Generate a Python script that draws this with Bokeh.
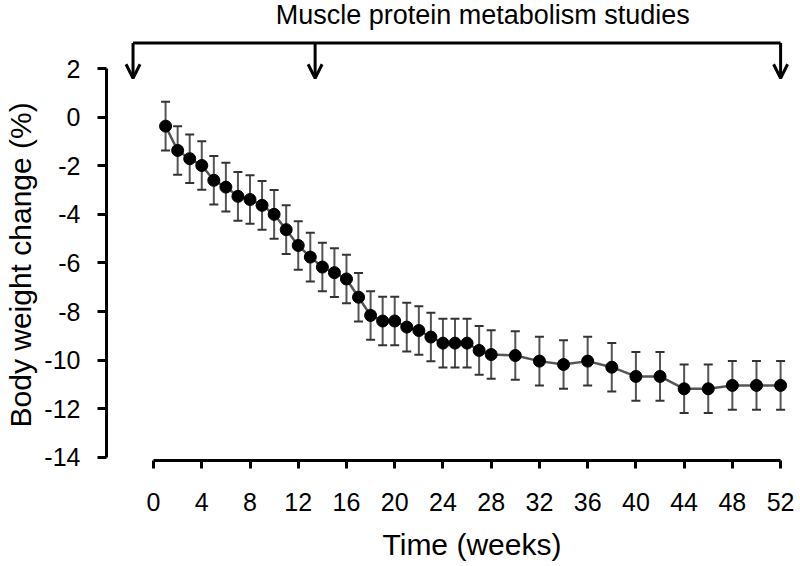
from bokeh.plotting import figure
from bokeh.models import (Range1d, Whisker, TeeHead, Arrow, OpenHead, Label, Title,
                          ColumnDataSource, FixedTicker, LinearAxis)
from bokeh.embed import file_html
from bokeh.resources import INLINE

# ---- data -------------------------------------------------------------
weeks = [1, 2, 3, 4, 5, 6, 7, 8, 9, 10, 11, 12, 13, 14, 15, 16, 17, 18, 19, 20,
         21, 22, 23, 24, 25, 26, 27, 28, 30, 32, 34, 36, 38, 40, 42, 44, 46, 48, 50, 52]
change = [-0.37, -1.37, -1.71, -1.99, -2.60, -2.88, -3.26, -3.39, -3.63, -4.00,
          -4.63, -5.28, -5.76, -6.17, -6.40, -6.66, -7.41, -8.16, -8.39, -8.39,
          -8.64, -8.78, -9.05, -9.30, -9.30, -9.30, -9.60, -9.77, -9.81, -10.04,
          -10.18, -10.04, -10.29, -10.67, -10.67, -11.18, -11.18, -11.04, -11.04, -11.04]
sem = [1.0, 1.0, 1.0, 1.0, 1.0, 1.0, 1.0, 1.0, 1.0, 1.0,
       1.0, 1.0, 1.0, 1.0, 1.0, 1.0, 1.0, 1.0, 1.0, 1.0,
       1.0, 1.0, 1.0, 1.0, 1.0, 1.0, 1.0, 1.0, 1.0, 1.0,
       1.0, 1.0, 1.0, 1.0, 1.0, 1.0, 1.0, 1.0, 1.0, 1.0]
x_ticks = [0, 4, 8, 12, 16, 20, 24, 28, 32, 36, 40, 44, 48, 52]
y_ticks = [-14, -12, -10, -8, -6, -4, -2, 0, 2]
y_tick_labels = ["-14", "-12", "-10", "-8", "-6", "-4", "-2", "0", "2"]
study_weeks = [-1.7, 13.4, 52.0]
study_label = "Muscle protein metabolism studies"
x_label = "Time (weeks)"
y_label = "Body weight change (%)"

FONT = "Liberation Sans"
BRACKET_Y = 3.05
ARROW_TIP_Y = 1.6

upper = [c + s for c, s in zip(change, sem)]
lower = [c - s for c, s in zip(change, sem)]
src = ColumnDataSource(dict(x=weeks, y=change, upper=upper, lower=lower))

p = figure(width=800, height=566, output_backend="svg", toolbar_location=None,
           title=None,
           x_range=Range1d(-3.9, 53.65), y_range=Range1d(-14.13, 4.80),
           min_border_left=106, min_border_right=0, min_border_top=0,
           min_border_bottom=106)
p.outline_line_color = None
p.grid.visible = False
p.background_fill_color = "white"
p.border_fill_color = "white"

# x axis
xa = p.xaxis[0]
xa.bounds = (0, 52)
xa.ticker = FixedTicker(ticks=x_ticks)
xa.axis_line_width = 3
xa.axis_line_color = "black"
xa.major_tick_line_width = 3
xa.major_tick_line_color = "black"
xa.major_tick_out = 8
xa.major_tick_in = 0
xa.minor_tick_line_color = None
xa.major_label_text_font = FONT
xa.major_label_text_font_size = "25px"
xa.major_label_text_color = "black"
xa.major_label_standoff = 24

# y axis
ya = p.yaxis[0]
ya.bounds = (-14, 2)
ya.ticker = FixedTicker(ticks=y_ticks)
ya.major_label_overrides = {t: l for t, l in zip(y_ticks, y_tick_labels)}
ya.axis_line_width = 3
ya.axis_line_color = "black"
ya.major_tick_line_width = 3
ya.major_tick_line_color = "black"
ya.major_tick_out = 9
ya.major_tick_in = 0
ya.minor_tick_line_color = None
ya.major_label_text_font = FONT
ya.major_label_text_font_size = "25px"
ya.major_label_text_color = "black"
ya.major_label_standoff = 17

# invisible spacer between the tick labels and the x title
spacer = LinearAxis(ticker=FixedTicker(ticks=[26]), axis_line_color=None,
                    major_tick_line_color=None, minor_tick_line_color=None,
                    major_tick_out=14, major_tick_in=0, major_label_standoff=0,
                    major_label_overrides={26: ""})
p.add_layout(spacer, "below")

# axis titles as side-panel titles (so they can be offset like the original)
p.add_layout(Title(text=x_label, align="left", offset=276, vertical_align="top",
                   standoff=0, text_font=FONT, text_font_size="30px",
                   text_font_style="normal", text_color="black"), "below")
p.add_layout(Title(text=y_label, align="left", offset=33, vertical_align="top",
                   standoff=6, text_font=FONT, text_font_size="30px",
                   text_font_style="normal", text_color="black"), "left")

# error bars
whisk = Whisker(base="x", upper="upper", lower="lower", source=src,
                line_color="#555555", line_width=2,
                upper_head=TeeHead(size=9, line_color="#333333", line_width=2),
                lower_head=TeeHead(size=9, line_color="#333333", line_width=2))
p.add_layout(whisk)

p.line("x", "y", source=src, line_color="#555555", line_width=2.5)
p.scatter("x", "y", source=src, size=12, fill_color="black", line_color="black")

# bracket with arrows
p.segment(x0=[study_weeks[0]], y0=[BRACKET_Y], x1=[study_weeks[-1]], y1=[BRACKET_Y],
          line_color="black", line_width=3)
for w in study_weeks:
    p.add_layout(Arrow(end=OpenHead(size=14, line_width=3, line_color="black"),
                       x_start=w, y_start=BRACKET_Y, x_end=w, y_end=ARROW_TIP_Y,
                       line_width=3, line_color="black"))

p.add_layout(Label(x=27.3, y=4.19, text=study_label, text_align="center",
                   text_baseline="middle", text_font=FONT,
                   text_font_size="27px", text_color="black"))

open("out.html", "w").write(file_html(p, INLINE))
